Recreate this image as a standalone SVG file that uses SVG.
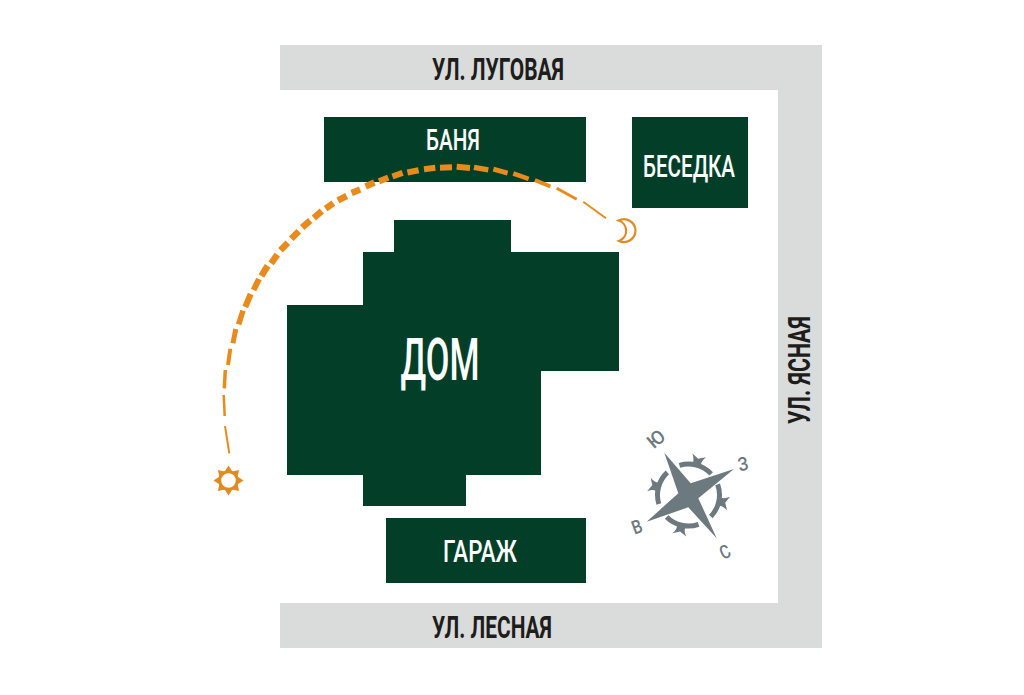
<svg xmlns="http://www.w3.org/2000/svg" width="1024" height="695" viewBox="0 0 1024 695">
<style>
.t{font-family:"Roboto","Liberation Sans",sans-serif;font-weight:500;fill:#fff;text-anchor:middle}
.r{font-family:"Roboto","Liberation Sans",sans-serif;font-weight:700;fill:#1d1d1b;text-anchor:middle}
.c{font-family:"Roboto","Liberation Sans",sans-serif;font-weight:500;fill:#6c7a80;text-anchor:middle;font-size:19px}
.b{fill:#033f28}
.road{fill:#dadbdb}
#path path{fill:none;stroke:#e88b1c;stroke-linecap:butt}
</style>
<defs>
<g id="seg"><path d="M-16.400-26.300A31 31 0 0 1 16.400-26.300" fill="none" stroke="#6c7a80" stroke-width="5"/><path d="M-5.500-29Q-2-34-7-41L0-37.500L7-41Q2-34 5.500-29Z" fill="#6c7a80"/></g>
<polygon id="ray" points="-4.500,-8 4.500,-8 0,-15" fill="#e08a22"/>
</defs>
<rect width="1024" height="695" fill="#fff"/>
<g id="road-lugovaya"><rect class="road" x="280" y="45" width="542" height="45"/><text class="r" x="498" y="79.500" font-size="31" textLength="132" lengthAdjust="spacingAndGlyphs">УЛ. ЛУГОВАЯ</text></g>
<g id="road-yasnaya"><rect class="road" x="778" y="45" width="44" height="603"/><text class="r" transform="translate(809.500 370) rotate(-90)" font-size="31" textLength="108" lengthAdjust="spacingAndGlyphs">УЛ. ЯСНАЯ</text></g>
<g id="road-lesnaya"><rect class="road" x="280" y="603" width="542" height="45"/><text class="r" x="492" y="638" font-size="31" textLength="120" lengthAdjust="spacingAndGlyphs">УЛ. ЛЕСНАЯ</text></g>
<g id="banya"><rect class="b" x="324" y="117" width="262" height="65"/><text class="t" x="453" y="150" font-size="30" textLength="54" lengthAdjust="spacingAndGlyphs">БАНЯ</text></g>
<g id="besedka"><rect class="b" x="632" y="117" width="116" height="91"/><text class="t" x="689" y="177" font-size="31" textLength="92" lengthAdjust="spacingAndGlyphs">БЕСЕДКА</text></g>
<g id="dom"><polygon class="b" points="394,220 511,220 511,252 619,252 619,371 541,371 541,475 466,475 466,506 363,506 363,475 287,475 287,305 363,305 363,252 394,252"/><text class="t" x="440" y="380" font-size="60" textLength="79" lengthAdjust="spacingAndGlyphs">ДОМ</text></g>
<g id="garazh"><rect class="b" x="386" y="518" width="200" height="65"/><text class="t" x="480" y="562" font-size="31" textLength="74" lengthAdjust="spacingAndGlyphs">ГАРАЖ</text></g>
<g id="path">
<path stroke-width="2" d="M229.300 453.300L225 426"/>
<path stroke-width="2.500" d="M224.700 416L223.700 395"/>
<path stroke-width="3.500" d="M224.300 388.300L225.300 370"/>
<path stroke-width="4" d="M228 365L230.300 348.700"/>
<path stroke-width="5" d="M232.900 343.300L235.800 329"/>
<path stroke-width="5.500" d="M238.600 324.300L243 310.700"/>
<path stroke-width="6" d="M245.300 307L250.700 294"/>
<path stroke-width="6" d="M253.600 290L259 279"/>
<path stroke-width="6.500" d="M261.400 276L267.600 265.700"/>
<path stroke-width="6.500" d="M271.100 263.400L277.300 254.600"/>
<path stroke-width="6.500" d="M280.500 250.200L287.800 242.800"/>
<path stroke-width="6.500" d="M291.200 238.800L298.800 231.200"/>
<path stroke-width="6.500" d="M302.200 227.500L310.200 220.500"/>
<path stroke-width="6.500" d="M313.800 217.900L321.800 211.100"/>
<path stroke-width="6.500" d="M325.600 208.600L333.400 203.100"/>
<path stroke-width="6.500" d="M337.900 200.400L346.700 196"/>
<path stroke-width="6.500" d="M351.600 193L360.100 189.600"/>
<path stroke-width="6.500" d="M365.600 186.400L374.400 182.600"/>
<path stroke-width="6" d="M379 181.400L388.300 177.600"/>
<path stroke-width="6" d="M392.400 176.500L402.600 172.900"/>
<path stroke-width="6" d="M407.400 172.500L418.600 170.200"/>
<path stroke-width="6" d="M424 169.200L435.300 167.800"/>
<path stroke-width="6" d="M440 167.700L452 167.300"/>
<path stroke-width="6" d="M456.700 166.800L470 167.900"/>
<path stroke-width="5.500" d="M474 167.400L488.300 169.900"/>
<path stroke-width="5" d="M493.400 169.200L507.600 173.100"/>
<path stroke-width="4.500" d="M513.300 173.500L528.700 178.800"/>
<path stroke-width="4" d="M534.900 180.200L550.400 186.500"/>
<path stroke-width="3" d="M556.700 188.300L576.700 199.300"/>
<path stroke-width="2" d="M583.300 201.700L606 218.300"/>
</g>
<g id="sun">
<circle cx="228.500" cy="480.500" r="8.700" fill="#fff" stroke="#e08a22" stroke-width="2.800"/>
<g transform="translate(228.500 480.500)"><use href="#ray" transform="rotate(0)"/><use href="#ray" transform="rotate(45)"/><use href="#ray" transform="rotate(90)"/><use href="#ray" transform="rotate(135)"/><use href="#ray" transform="rotate(180)"/><use href="#ray" transform="rotate(225)"/><use href="#ray" transform="rotate(270)"/><use href="#ray" transform="rotate(315)"/></g>
</g>
<g id="moon"><path d="M618.500 220.500A11.500 11.500 0 1 1 619 241A10.800 10.800 0 0 0 618.500 220.500Z" fill="#fff" stroke="#e08a22" stroke-width="2.200"/></g>
<g id="compass">
<g transform="translate(688.500 495)"><use href="#seg" transform="rotate(15)"/><use href="#seg" transform="rotate(102)"/><use href="#seg" transform="rotate(193)"/><use href="#seg" transform="rotate(285)"/></g>
<polygon points="664.300,452.700 690.700,483.300 734,469 698.300,498.300 716.700,538.300 688.300,507.300 646.700,521.700 678.300,493.300" fill="#6c7a80"/>
<text class="c" y="6.500" transform="translate(656 439) rotate(-40)" textLength="17" lengthAdjust="spacingAndGlyphs">Ю</text>
<text class="c" y="6.500" transform="translate(743 464) rotate(-12)" textLength="10" lengthAdjust="spacingAndGlyphs">З</text>
<text class="c" y="6.500" transform="translate(725 552) rotate(-25)" textLength="10" lengthAdjust="spacingAndGlyphs">С</text>
<text class="c" y="6.500" transform="translate(637 527) rotate(-20)" textLength="10" lengthAdjust="spacingAndGlyphs">В</text>
</g>
</svg>
